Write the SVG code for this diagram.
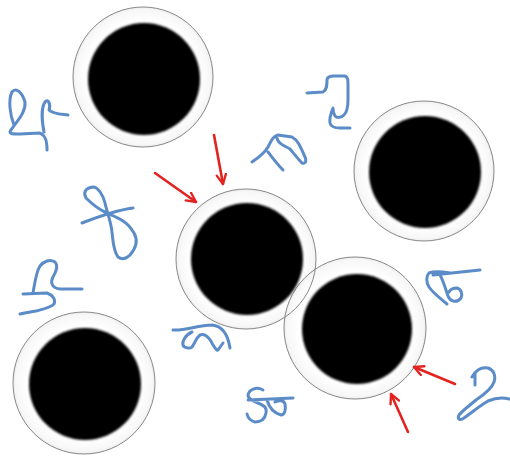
<svg xmlns="http://www.w3.org/2000/svg" width="510" height="459" viewBox="0 0 510 459">
  <defs>
    <radialGradient id="ring" cx="50%" cy="50%" r="50%">
      <stop offset="0.8" stop-color="#ffffff"/>
      <stop offset="0.96" stop-color="#f7f7f7"/>
      <stop offset="1" stop-color="#eeeeee"/>
    </radialGradient>
    <filter id="soft" x="-10%" y="-10%" width="120%" height="120%">
      <feGaussianBlur stdDeviation="0.9"/>
    </filter>
    <marker id="ah" viewBox="0 0 10 10" refX="9" refY="5" markerWidth="4.5" markerHeight="4.5" orient="auto" markerUnits="strokeWidth">
      <path d="M1,1 L9,5 L1,9" fill="none" stroke="#e3231f" stroke-width="2" stroke-linecap="round" stroke-linejoin="round"/>
    </marker>
  </defs>
  <style>
    .outer { fill: url(#ring); }
    .edge { fill: none; stroke: #7a7a7a; stroke-width: 0.9; }
    .core { fill: #000; filter: url(#soft); }
    .sq { fill: none; stroke: #5b8cc8; stroke-width: 3; stroke-linecap: round; stroke-linejoin: round; }
    .arr { fill: none; stroke: #e3231f; stroke-width: 2.6; stroke-linecap: round; marker-end: url(#ah); }
  </style>
  <rect width="510" height="459" fill="#ffffff"/>

  <g id="particles">
    <g id="ring-fills">
      <circle class="outer" cx="143" cy="77" r="70"/>
      <circle class="outer" cx="424" cy="171" r="70"/>
      <circle class="outer" cx="246" cy="259" r="70"/>
      <circle class="outer" cx="355" cy="328" r="71"/>
      <circle class="outer" cx="84" cy="383" r="71"/>
    </g>
    <g id="ring-edges">
      <circle class="edge" cx="143" cy="77" r="70"/>
      <circle class="edge" cx="424" cy="171" r="70"/>
      <circle class="edge" cx="246" cy="259" r="70"/>
      <circle class="edge" cx="355" cy="328" r="71"/>
      <circle class="edge" cx="84" cy="383" r="71"/>
    </g>
    <g id="cores">
      <circle class="core" cx="144" cy="79" r="56"/>
      <circle class="core" cx="425" cy="172" r="56"/>
      <circle class="core" cx="247" cy="259" r="56"/>
      <circle class="core" cx="357" cy="329" r="55"/>
      <circle class="core" cx="85" cy="384" r="56"/>
    </g>
  </g>

  <g id="squiggles">
    <path class="sq" d="M14,125 C10,115 8,100 12,92 C16,87 22,92 25,102 C26,112 18,120 11,130 C8,134 12,134 20,134 L40,133 C46,136 47,142 47,150 M44,132 C42,122 41,108 45,102 C48,98 51,104 49,110 C53,114 60,114 68,115"/>
    <path class="sq" d="M107,213 C100,210 93,205 86,198 C83,193 85,188 93,187 C98,187 103,195 105,203 C107,212 111,222 112,232 C113,240 113,250 118,257 C122,260 126,259 130,255 C136,248 138,240 134,233 C131,228 128,224 123,221 C117,217 111,215 107,213 M82,223 C100,216 118,210 133,208"/>
    <path class="sq" d="M33,293 C35,282 36,272 40,266 C44,261 50,259 55,262 C59,266 56,272 53,277 C50,283 52,288 60,289 L82,289 M23,294 L47,293 C53,295 56,300 54,304 C50,308 43,309 36,311 C30,312 25,313 20,314"/>
    <path class="sq" d="M173,330 C185,331 198,325 212,325 C222,326 228,335 230,348 M192,332 C185,335 182,342 183,345 C184,348 190,349 192,347 C195,343 196,338 200,335 C205,333 210,338 213,345 C215,348 217,351 218,350 L223,343"/>
    <path class="sq" d="M263,390 C256,386 249,390 248,395 C248,399 253,401 258,403 C265,406 267,408 266,413 C265,419 261,422 255,422 C251,421 248,418 247,414 M248,400 L293,398 M267,400 C269,407 274,413 281,415 C285,415 286,409 285,404 C284,400 279,400 275,402"/>
    <path class="sq" d="M252,162 C258,158 264,154 268,147 C271,141 273,136 278,135 L292,137 C298,140 301,148 305,157 C307,162 305,164 302,163 C299,160 295,155 290,149 C287,147 283,146 280,143 C278,141 277,139 277,138 M268,152 C272,157 277,164 283,170"/>
    <path class="sq" d="M307,93 L323,92 C327,90 327,85 327,80 C327,77 330,76 334,76 L345,76 C348,77 348,80 348,86 L348,100 C348,108 347,112 344,115 C341,118 337,118 335,116 C333,113 333,111 333,108 C331,113 329,118 330,123 C331,127 335,128 340,128 L350,128"/>
    <path class="sq" d="M450,273 C444,272 434,271 429,273 C426,276 426,282 429,287 C433,293 440,298 447,304 M433,275 L480,270 M440,275 C443,280 446,290 448,296 C450,301 456,304 461,298 C463,294 461,289 457,288 C453,288 450,290 449,292"/>
    <path class="sq" d="M472,377 C476,370 482,367 488,368 C494,370 496,376 494,382 C492,388 485,394 476,400 C469,406 462,411 459,415 C457,419 460,421 464,418 C470,414 478,407 488,401 C495,398 502,397 509,399 M475,373 L475,385"/>
  </g>

  <g id="connectors">
    <line class="arr" x1="214" y1="135" x2="223" y2="184"/>
    <line class="arr" x1="155" y1="173" x2="196" y2="202"/>
    <line class="arr" x1="455" y1="384" x2="414" y2="367"/>
    <line class="arr" x1="408" y1="432" x2="391" y2="394"/>
  </g>
</svg>
